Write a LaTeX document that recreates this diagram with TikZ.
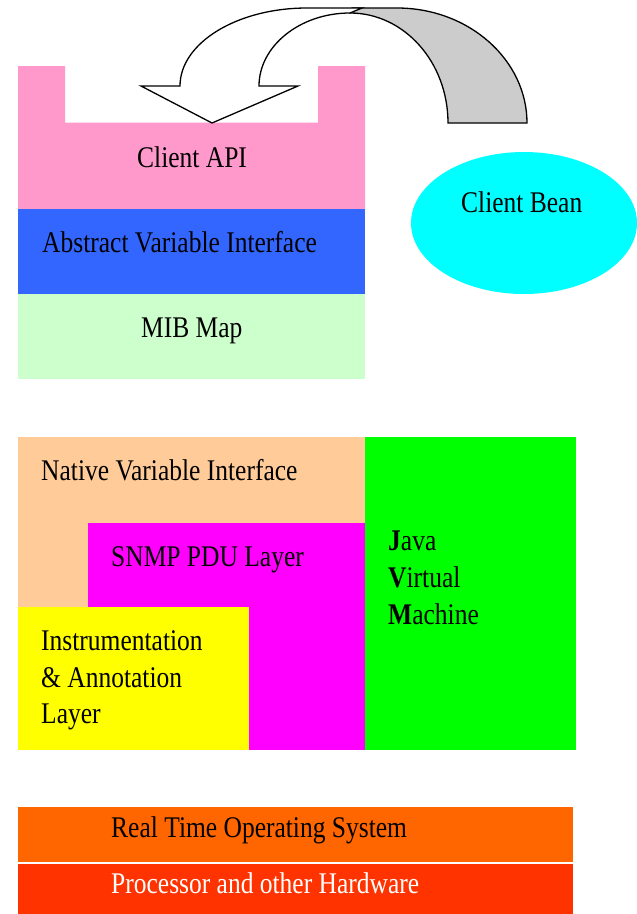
\documentclass[tikz,border=0pt]{standalone}
\usepackage{fontspec}
\setmainfont{Liberation Serif}[FakeStretch=0.85]
\definecolor{cpink}{HTML}{FF99CC}
\definecolor{cblue}{HTML}{3366FF}
\definecolor{cmib}{HTML}{CCFFCC}
\definecolor{ccyan}{HTML}{00FFFF}
\definecolor{cpeach}{HTML}{FFCC99}
\definecolor{cmag}{HTML}{FF00FF}
\definecolor{cyel}{HTML}{FFFF00}
\definecolor{cgreen}{HTML}{00FF00}
\definecolor{corange}{HTML}{FF6600}
\definecolor{cred}{HTML}{FF3300}
\definecolor{cgray}{HTML}{CCCCCC}
\tikzset{
  lbl/.style={anchor=base west, inner sep=0pt, font=\fontsize{30}{36}\selectfont},
  arrowline/.style={draw=black, line width=1.3pt, line join=miter}
}
\begin{document}
\begin{tikzpicture}[x=1pt,y=-1pt]
\useasboundingbox (0,0) rectangle (637,914);
% top stack
\fill[cpink] (18,66) -- (65,66) -- (65,122.7) -- (318,122.7) -- (318,66) -- (365,66) -- (365,209) -- (18,209) -- cycle;
\fill[cblue] (18,209) rectangle (365,294);
\fill[cmib] (18,294) rectangle (365,379);
% client bean
\fill[ccyan] (524,223) ellipse [x radius=113, y radius=71];
% curved arrow
\path[arrowline, fill=cgray] (352,8) -- (397,8)
  .. controls (469,8) and (527,60) .. (527,123)
  -- (448,123)
  .. controls (448,62) and (404,13) .. (350,13) -- cycle;
\path[arrowline, fill=white] (212,123) -- (141,86) -- (180,86)
  .. controls (180,43) and (237,8) .. (307,8)
  -- (362,8) -- (350,13)
  .. controls (300,13) and (259,46) .. (259,86)
  -- (298,86) -- cycle;
% middle stack
\fill[cpeach] (18,437) rectangle (365,750);
\fill[cmag] (88,523) rectangle (365,750);
\fill[cyel] (18,607) rectangle (249,750);
\fill[cgreen] (365,437) rectangle (576,750);
% bottom
\fill[corange] (18,807) rectangle (573,862);
\fill[cred] (18,864) rectangle (573,914);
% labels
\node[lbl] (capi) at (137,167) {Client API};
\node[lbl] (avi) at (42,252) {Abstract Variable Interface};
\node[lbl] (mib) at (141,337) {MIB Map};
\node[lbl] (bean) at (461,212) {Client Bean};
\node[lbl] (nvi) at (41,480) {Native Variable Interface};
\node[lbl] (snmp) at (111,566) {SNMP PDU Layer};
\node[lbl] (jvm1) at (388,550) {\textbf{J}ava};
\node[lbl] (jvm2) at (388,587) {\textbf{V}irtual};
\node[lbl] (jvm3) at (388,624) {\textbf{M}achine};
\node[lbl] (ia1) at (41,650) {Instrumentation};
\node[lbl] (ia2) at (41,687) {\& Annotation};
\node[lbl] (ia3) at (41,723) {Layer};
\node[lbl] (rtos) at (111,837) {Real Time Operating System};
\node[lbl, text=white] (hw) at (111,893) {Processor and other Hardware};
\end{tikzpicture}
\end{document}
